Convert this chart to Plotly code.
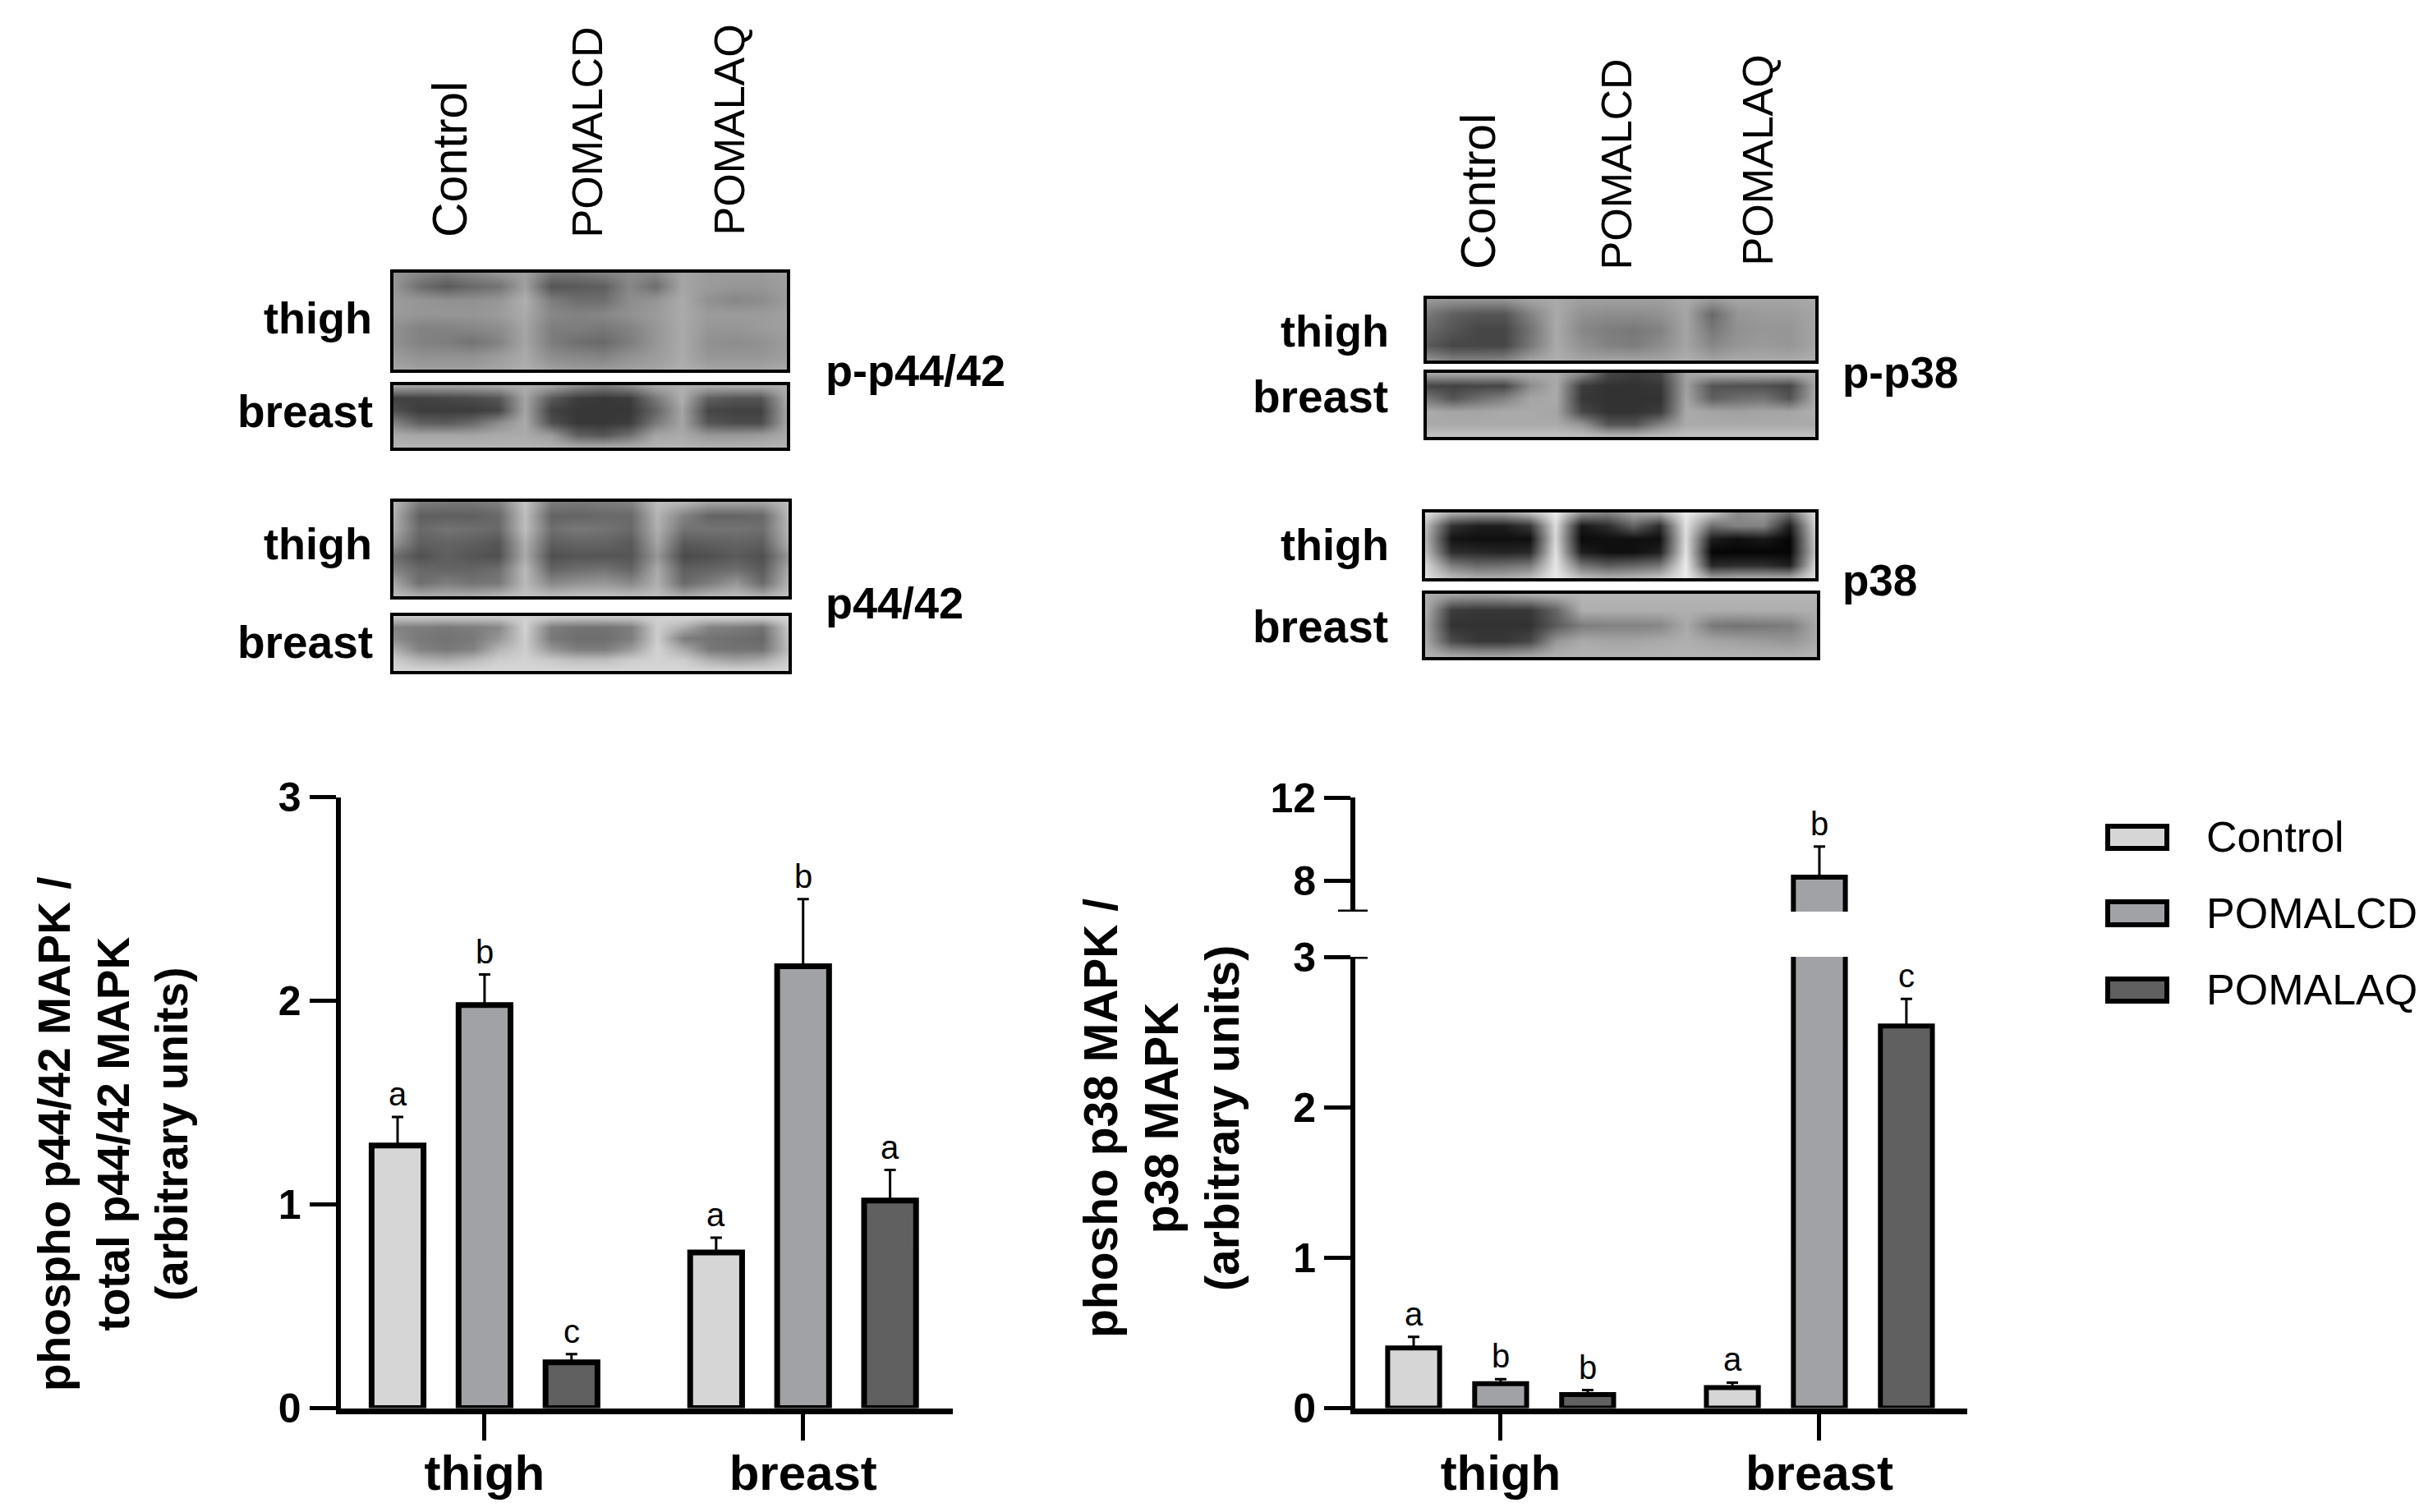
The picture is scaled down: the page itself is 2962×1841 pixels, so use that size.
import plotly.graph_objects as go

W, H = 2962, 1841
FONT = "Liberation Sans"
LIGHT, MID, DARK = "#d6d6d6", "#a1a2a6", "#606060"

TISSUES = ["thigh", "breast"]
GROUPS = ["Control", "POMALCD", "POMALAQ"]
GROUP_COLORS = [LIGHT, MID, DARK]

# bar values and error bars, per group: [thigh, breast]
P44_VALUES = [[1.29, 0.765], [1.98, 2.17], [0.225, 1.02]]
P44_ERRORS = [[0.14, 0.072], [0.15, 0.33], [0.041, 0.15]]
P44_LETTERS = [["a", "a"], ["b", "b"], ["c", "a"]]
P44_TICKS = [0, 1, 2, 3]

P38_VALUES = [[0.40, 0.137], [0.163, 8.19], [0.09, 2.54]]
P38_ERRORS = [[0.074, 0.033], [0.03, 1.46], [0.03, 0.18]]
P38_LETTERS = [["a", "a"], ["b", "b"], ["b", "c"]]
P38_TICKS_LOW = [0, 1, 2, 3]
P38_TICKS_HIGH = [8, 12]
P38_BREAK_LOW = 3
P38_BREAK_HIGH = 6.54

BLOT_P44_THIGH = [
    [150, 135, 125, 135, 150, 160, 120, 120, 130, 140, 135, 165, 155, 155, 155, 160],
    [150, 110, 90, 105, 115, 160, 85, 90, 95, 135, 110, 165, 155, 150, 150, 158],
    [155, 150, 145, 145, 150, 175, 125, 110, 110, 140, 150, 170, 145, 135, 140, 155],
    [155, 150, 150, 150, 155, 170, 135, 130, 135, 145, 155, 170, 155, 155, 155, 160],
    [145, 130, 130, 135, 140, 165, 125, 125, 120, 130, 150, 170, 150, 150, 155, 160],
    [145, 130, 125, 115, 130, 165, 125, 110, 105, 125, 150, 170, 145, 140, 145, 155],
    [155, 145, 145, 145, 155, 170, 140, 135, 130, 145, 155, 170, 150, 150, 150, 158],
    [165, 160, 160, 160, 165, 175, 160, 155, 155, 160, 165, 175, 165, 165, 165, 170],
]
BLOT_P44_BREAST = [
    [170, 165, 165, 165, 170, 175, 165, 140, 125, 140, 170, 175, 175, 175, 175, 175],
    [65, 65, 70, 75, 85, 165, 90, 60, 55, 60, 120, 175, 95, 85, 85, 170],
    [80, 60, 60, 60, 70, 165, 65, 55, 55, 55, 100, 165, 70, 65, 65, 165],
    [130, 95, 90, 105, 140, 170, 80, 55, 55, 60, 120, 165, 85, 75, 75, 165],
    [170, 165, 165, 165, 170, 170, 155, 95, 85, 110, 165, 170, 150, 150, 155, 170],
    [180, 180, 180, 180, 180, 180, 180, 175, 175, 175, 180, 180, 180, 180, 180, 180],
]
BLOT_TOTAL_P44_THIGH = [
    [185, 125, 120, 120, 130, 195, 125, 120, 125, 130, 190, 185, 165, 165, 165, 190],
    [175, 95, 95, 95, 105, 190, 100, 100, 105, 105, 180, 130, 100, 100, 105, 185],
    [170, 105, 115, 110, 105, 190, 110, 120, 115, 105, 175, 115, 115, 115, 110, 180],
    [150, 95, 100, 95, 85, 175, 95, 100, 100, 90, 165, 90, 95, 100, 95, 175],
    [110, 80, 95, 85, 80, 170, 80, 85, 85, 85, 150, 75, 80, 90, 80, 150],
    [130, 105, 100, 100, 110, 185, 100, 110, 115, 100, 170, 95, 100, 110, 90, 170],
    [165, 110, 125, 115, 120, 185, 135, 145, 150, 135, 175, 105, 125, 150, 105, 180],
    [190, 175, 175, 175, 185, 195, 190, 195, 195, 190, 190, 170, 185, 190, 175, 195],
]
BLOT_TOTAL_P44_BREAST = [
    [205, 205, 205, 205, 205, 210, 205, 205, 205, 205, 210, 215, 215, 215, 215, 215],
    [130, 125, 120, 125, 135, 210, 125, 115, 115, 125, 205, 175, 130, 125, 115, 200],
    [140, 120, 115, 120, 150, 205, 120, 110, 110, 125, 205, 125, 115, 110, 105, 195],
    [175, 130, 120, 130, 180, 205, 150, 125, 125, 155, 210, 170, 120, 115, 115, 190],
    [205, 180, 170, 185, 205, 210, 200, 190, 190, 205, 210, 205, 175, 160, 170, 205],
    [215, 215, 215, 215, 215, 215, 215, 215, 215, 215, 215, 215, 215, 215, 215, 215],
]
BLOT_P38_THIGH = [
    [155, 150, 150, 150, 165, 170, 160, 160, 160, 160, 170, 155, 165, 165, 165, 170],
    [120, 95, 85, 85, 130, 170, 145, 140, 140, 145, 165, 105, 150, 155, 155, 165],
    [105, 85, 70, 70, 115, 170, 135, 125, 120, 130, 165, 120, 145, 150, 150, 165],
    [90, 70, 70, 70, 120, 170, 145, 130, 125, 140, 165, 135, 150, 155, 150, 165],
    [150, 130, 130, 135, 165, 175, 165, 165, 165, 165, 175, 165, 170, 170, 170, 175],
]
BLOT_P38_BREAST = [
    [170, 170, 170, 170, 170, 170, 140, 70, 60, 70, 165, 175, 175, 175, 175, 175],
    [70, 65, 70, 70, 140, 170, 60, 50, 50, 55, 160, 85, 80, 80, 70, 165],
    [120, 85, 110, 130, 165, 170, 55, 50, 50, 50, 165, 95, 110, 115, 85, 170],
    [170, 165, 165, 170, 170, 165, 70, 50, 50, 60, 170, 165, 160, 165, 165, 175],
    [170, 170, 170, 170, 170, 170, 150, 85, 85, 130, 170, 170, 170, 170, 170, 170],
    [195, 195, 195, 195, 195, 195, 195, 190, 190, 195, 195, 195, 195, 195, 195, 195],
]
BLOT_TOTAL_P38_THIGH = [
    [225, 175, 165, 165, 190, 235, 150, 130, 165, 170, 235, 200, 140, 155, 110, 225],
    [190, 50, 30, 30, 55, 220, 25, 45, 100, 45, 225, 110, 130, 130, 30, 210],
    [180, 20, 15, 15, 15, 215, 10, 15, 15, 15, 220, 30, 15, 25, 5, 200],
    [190, 45, 40, 35, 40, 225, 30, 15, 15, 30, 225, 5, 5, 5, 5, 195],
    [215, 125, 105, 110, 120, 230, 115, 90, 100, 115, 235, 40, 45, 45, 30, 215],
    [225, 190, 175, 175, 190, 235, 195, 180, 185, 200, 235, 165, 175, 175, 175, 225],
]
BLOT_TOTAL_P38_BREAST = [
    [175, 165, 160, 165, 175, 180, 180, 180, 180, 180, 180, 180, 180, 180, 180, 180],
    [175, 60, 55, 55, 55, 100, 175, 175, 175, 175, 175, 175, 175, 175, 175, 175],
    [165, 50, 50, 50, 50, 90, 125, 130, 130, 135, 170, 120, 115, 120, 125, 170],
    [170, 75, 55, 55, 70, 150, 170, 165, 165, 170, 175, 165, 160, 155, 150, 170],
    [180, 175, 170, 170, 175, 180, 180, 180, 180, 180, 180, 180, 180, 180, 180, 180],
]

SLOT = 0.273
BAR_WIDTH = 0.163


def px(x):
    return x / W


def py(y):
    return 1 - y / H


fig = go.Figure()
annotations = []
shapes = []


def label(text, x, y, size, xanchor="center", yanchor="middle", angle=0, bold=True, align="center"):
    annotations.append(
        dict(
            text=f"<b>{text}</b>" if bold else text,
            xref="paper",
            yref="paper",
            x=px(x),
            y=py(y),
            xanchor=xanchor,
            yanchor=yanchor,
            textangle=angle,
            align=align,
            showarrow=False,
            font=dict(family=FONT, size=size, color="black"),
        )
    )


def add_bars(values, errors, xaxis, yaxis, line_width):
    for j, group in enumerate(GROUPS):
        fig.add_trace(
            go.Bar(
                x=[i + (j - 1) * SLOT for i in range(len(TISSUES))],
                y=values[j],
                name=group,
                width=BAR_WIDTH,
                xaxis=xaxis,
                yaxis=yaxis,
                marker=dict(color=GROUP_COLORS[j], line=dict(color="black", width=line_width)),
                error_y=dict(
                    type="data",
                    symmetric=False,
                    array=errors[j],
                    arrayminus=[0, 0],
                    color="black",
                    thickness=3,
                    width=7,
                ),
            )
        )


def add_letters(values, errors, letters, xaxis, yaxis_for):
    for j in range(len(GROUPS)):
        for i in range(len(TISSUES)):
            top = values[j][i] + errors[j][i]
            annotations.append(
                dict(
                    text=letters[j][i],
                    xref=xaxis,
                    yref=yaxis_for(top),
                    x=i + (j - 1) * SLOT,
                    y=top,
                    yshift=4,
                    yanchor="bottom",
                    showarrow=False,
                    font=dict(family=FONT, size=40, color="black"),
                )
            )


def x_axis(x0, x1, y_anchor, x_range, show=True):
    return dict(
        domain=[px(x0), px(x1)],
        anchor=y_anchor,
        range=x_range,
        tickmode="array",
        tickvals=[0, 1] if show else [],
        ticktext=TISSUES if show else [],
        ticks="outside" if show else "",
        ticklen=32,
        tickwidth=5,
        tickcolor="black",
        tickfont=dict(family=FONT, size=60, color="black", weight=700),
        ticklabelstandoff=-12,
        showline=show,
        linecolor="black",
        linewidth=7,
        showgrid=False,
        zeroline=False,
        automargin=False,
        fixedrange=True,
    )


def y_axis(y_top, y_bottom, x_anchor, y_range, ticks):
    return dict(
        domain=[py(y_bottom), py(y_top)],
        anchor=x_anchor,
        range=y_range,
        tickmode="array",
        tickvals=ticks,
        ticks="outside",
        ticklen=32,
        tickwidth=5,
        tickcolor="black",
        tickfont=dict(family=FONT, size=50, color="black", weight=700),
        showline=True,
        linecolor="black",
        linewidth=6,
        showgrid=False,
        zeroline=False,
        automargin=False,
        fixedrange=True,
    )


layout_axes = {}

# left bar chart
add_bars(P44_VALUES, P44_ERRORS, "x", "y", 7)
add_letters(P44_VALUES, P44_ERRORS, P44_LETTERS, "x", lambda top: "y")
layout_axes["xaxis"] = x_axis(414.6, 1160, "y", [-0.452, 1.470])
layout_axes["yaxis"] = y_axis(970.8, 1714.6, "x", [0, 3], P44_TICKS)

# right bar chart, broken axis: lower part on x2/y2, upper part on x3/y3
add_bars(P38_VALUES, P38_ERRORS, "x2", "y2", 6)
add_bars(P38_VALUES, P38_ERRORS, "x3", "y3", 6)
add_letters(P38_VALUES, P38_ERRORS, P38_LETTERS, "x2", lambda top: "y3" if top > P38_BREAK_HIGH else "y2")
layout_axes["xaxis2"] = x_axis(1650, 2395, "y2", [-0.456, 1.464])
layout_axes["yaxis2"] = y_axis(1165, 1714.6, "x2", [0, P38_BREAK_LOW], P38_TICKS_LOW)
layout_axes["xaxis3"] = x_axis(1650, 2395, "y3", [-0.456, 1.464], show=False)
layout_axes["yaxis3"] = y_axis(971, 1110, "x3", [P38_BREAK_HIGH, 12], P38_TICKS_HIGH)

for yref, value in (("y2", P38_BREAK_LOW), ("y3", P38_BREAK_HIGH)):
    shapes.append(
        dict(
            type="line",
            xref="paper",
            yref=yref,
            xsizemode="pixel",
            xanchor=px(1647),
            x0=-18,
            x1=18,
            y0=value,
            y1=value,
            line=dict(color="black", width=5),
        )
    )

# blots
blots = [
    (BLOT_P44_THIGH, 479, 958, 332, 450),
    (BLOT_P44_BREAST, 479, 958, 469, 545),
    (BLOT_TOTAL_P44_THIGH, 479, 960, 611, 726),
    (BLOT_TOTAL_P44_BREAST, 479, 960, 750, 817),
    (BLOT_P38_THIGH, 1737, 2210, 364, 439),
    (BLOT_P38_BREAST, 1737, 2210, 454, 532),
    (BLOT_TOTAL_P38_THIGH, 1735, 2210, 624, 704),
    (BLOT_TOTAL_P38_BREAST, 1735, 2212, 723, 800),
]
for n, (grid, x0, x1, y0, y1) in enumerate(blots, start=4):
    fig.add_trace(
        go.Heatmap(
            z=grid,
            xaxis=f"x{n}",
            yaxis=f"y{n}",
            zmin=0,
            zmax=255,
            zsmooth="best",
            showscale=False,
            colorscale=[[0, "#000000"], [1, "#ffffff"]],
        )
    )
    frame = dict(
        showline=True,
        mirror=True,
        linecolor="black",
        linewidth=4,
        showticklabels=False,
        ticks="",
        showgrid=False,
        zeroline=False,
        automargin=False,
        fixedrange=True,
    )
    layout_axes[f"xaxis{n}"] = dict(frame, domain=[px(x0), px(x1)], anchor=f"y{n}", range=[0, len(grid[0]) - 1])
    layout_axes[f"yaxis{n}"] = dict(frame, domain=[py(y1), py(y0)], anchor=f"x{n}", range=[len(grid) - 1, 0])

# blot labels
for text, right, y, size in [
    ("thigh", 455, 387, 54),
    ("breast", 456, 501, 55),
    ("thigh", 455, 662, 54),
    ("breast", 456, 782, 55),
    ("thigh", 1693, 403, 54),
    ("breast", 1692, 483, 55),
    ("thigh", 1693, 663, 54),
    ("breast", 1692, 763, 55),
]:
    label(text, right, y, size, xanchor="right")

label("p-p44/42", 1003, 451, 54, xanchor="left")
label("p44/42", 1003, 734, 54, xanchor="left")
label("p-p38", 2241, 453, 53, xanchor="left")
label("p38", 2241, 706, 53, xanchor="left")

for text, x, bottom, size in [
    ("Control", 548, 291, 59),
    ("POMALCD", 714, 292, 52),
    ("POMALAQ", 888, 289, 52),
    ("Control", 1800, 330, 59),
    ("POMALCD", 1967, 331, 52),
    ("POMALAQ", 2139, 326, 52),
]:
    label(text, x, bottom, size, yanchor="bottom", angle=-90, bold=False)

# y axis titles
label("phospho p44/42 MAPK /<br>total p44/42 MAPK<br>(arbitrary units)", 137, 1381, 55, angle=-90)
label("phosho p38 MAPK /<br>p38 MAPK<br>(arbitrary units)", 1414, 1362, 57, angle=-90)

# legend
for group, color, y0, y1, y_text in zip(
    GROUPS, GROUP_COLORS, [1006, 1098, 1192], [1033, 1126, 1219], [1019, 1112, 1205]
):
    shapes.append(
        dict(
            type="rect",
            xref="paper",
            yref="paper",
            x0=px(2566),
            x1=px(2638),
            y0=py(y1),
            y1=py(y0),
            fillcolor=color,
            line=dict(color="black", width=6),
        )
    )
    label(group, 2684, y_text, 52, xanchor="left", bold=False)

fig.update_layout(
    width=W,
    height=H,
    autosize=False,
    margin=dict(l=0, r=0, t=0, b=0, autoexpand=False),
    paper_bgcolor="white",
    plot_bgcolor="rgba(0,0,0,0)",
    barmode="overlay",
    showlegend=False,
    annotations=annotations,
    shapes=shapes,
    **layout_axes,
)

fig.write_html(
    "out.html",
    post_script="document.body.style.margin='0';document.body.style.overflow='hidden';",
    config={"displayModeBar": False},
)
